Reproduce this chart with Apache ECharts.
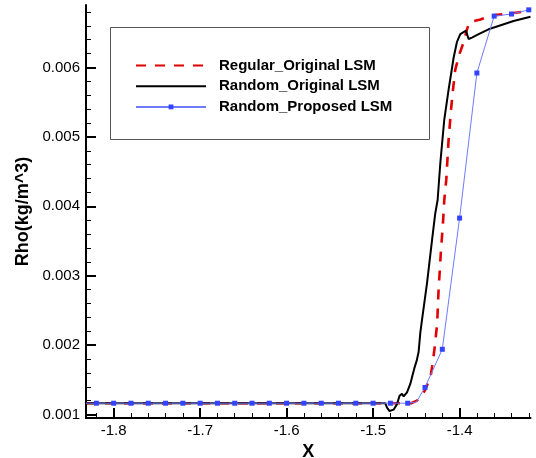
<!DOCTYPE html>
<html><head><meta charset="utf-8">
<script src="https://cdn.jsdelivr.net/npm/echarts@6/dist/echarts.min.js"></script>
<style>html,body{margin:0;padding:0;background:#fff}#c{width:536px;height:458px}</style>
</head><body><div id="c"></div>
<script>
const seriesNames = ['Regular_Original LSM', 'Random_Original LSM', 'Random_Proposed LSM'];

const regularX = [-1.832, -1.456, -1.4493, -1.4454, -1.44, -1.4377, -1.4335, -1.431, -1.4285, -1.426, -1.4243, -1.4215, -1.4192, -1.4177, -1.4154, -1.4127, -1.4099, -1.4076, -1.405, -1.4, -1.3954, -1.3914, -1.3888, -1.376, -1.3625, -1.3394, -1.318];
const regularY = [0.001163, 0.001163, 0.00120, 0.00125, 0.00135, 0.00142, 0.00155, 0.00175, 0.00200, 0.00230, 0.00279, 0.00337, 0.00376, 0.00409, 0.00438, 0.00496, 0.00539, 0.00568, 0.00597, 0.00620, 0.00636, 0.00655, 0.00665, 0.00669, 0.00675, 0.00678, 0.00682];

const randomOrigX = [-1.832, -1.486, -1.4839, -1.481, -1.4763, -1.4724, -1.4694, -1.4666, -1.4647, -1.4608, -1.457, -1.4539, -1.452, -1.4495, -1.4474, -1.4454, -1.4435, -1.4377, -1.4319, -1.4281, -1.4254, -1.4223, -1.4177, -1.4127, -1.4108, -1.4069, -1.403, -1.3992, -1.3954, -1.3926, -1.3896, -1.3857, -1.378, -1.3665, -1.3568, -1.3376, -1.318];
const randomOrigY = [0.001163, 0.001163, 0.00110, 0.00105, 0.00107, 0.00115, 0.00127, 0.00130, 0.00126, 0.00132, 0.00144, 0.00159, 0.00168, 0.00178, 0.00190, 0.00218, 0.00236, 0.00289, 0.00351, 0.00390, 0.00409, 0.00462, 0.00525, 0.00568, 0.00583, 0.00614, 0.00637, 0.00648, 0.00651, 0.00653, 0.00641, 0.00643, 0.00648, 0.00655, 0.00659, 0.00667, 0.00673];

const proposedX = [-1.832, -1.82, -1.80, -1.78, -1.76, -1.74, -1.72, -1.70, -1.68, -1.66, -1.64, -1.62, -1.60, -1.58, -1.56, -1.54, -1.52, -1.50, -1.48, -1.46, -1.45, -1.44, -1.42, -1.40, -1.38, -1.36, -1.34, -1.32];
const proposedY = [0.001163, 0.001163, 0.001163, 0.001163, 0.001163, 0.001163, 0.001163, 0.001163, 0.001163, 0.001163, 0.001163, 0.001163, 0.001163, 0.001163, 0.001163, 0.001163, 0.001163, 0.001163, 0.001163, 0.001163, 0.00118, 0.00139, 0.00194, 0.00383, 0.00592, 0.00674, 0.00677, 0.00683];
// points of the proposed curve drawn without a marker
const proposedNoMarker = [-1.832, -1.45];

const xMajorTicks = [-1.8, -1.7, -1.6, -1.5, -1.4];
const xMinorTicks = [-1.82, -1.78, -1.76, -1.74, -1.72, -1.68, -1.66, -1.64, -1.62, -1.58, -1.56, -1.54, -1.52, -1.48, -1.46, -1.44, -1.42, -1.38, -1.36, -1.34, -1.32];
const yMajorTicks = [0.001, 0.002, 0.003, 0.004, 0.005, 0.006];
const yMinorTicks = [0.0012, 0.0014, 0.0016, 0.0018, 0.0022, 0.0024, 0.0026, 0.0028, 0.0032, 0.0034, 0.0036, 0.0038, 0.0042, 0.0044, 0.0046, 0.0048, 0.0052, 0.0054, 0.0056, 0.0058, 0.0062, 0.0064, 0.0066, 0.0068];

const xTitle = 'X';
const yTitle = 'Rho(kg/m^3)';

const FONT = '"Liberation Sans", Arial, sans-serif';
const XMIN = -1.832, XMAX = -1.318, YMIN = 0.00095, YMAX = 0.0069;

const zip = (xs, ys) => xs.map((x, i) => [x, ys[i]]);
const proposedData = proposedX.map((x, i) => proposedNoMarker.includes(x)
  ? { value: [x, proposedY[i]], symbol: 'none' }
  : [x, proposedY[i]]);

const chart = echarts.init(document.getElementById('c'), null, { renderer: 'canvas' });

function baseX(extra) {
  return Object.assign({
    type: 'value', min: XMIN, max: XMAX, gridIndex: 0, position: 'bottom',
    splitLine: { show: false },
  }, extra);
}
function baseY(extra) {
  return Object.assign({
    type: 'value', min: YMIN, max: YMAX, gridIndex: 0, position: 'left',
    splitLine: { show: false },
  }, extra);
}

const hiddenSymbol = { color: 'rgba(0,0,0,0)', borderWidth: 0, borderColor: 'rgba(0,0,0,0)' };

chart.setOption({
  animation: false,
  backgroundColor: '#ffffff',
  grid: { left: 86, right: 5.5, top: 5, bottom: 40, containLabel: false, outerBoundsMode: 'none' },
  xAxis: [
    baseX({
      name: xTitle, nameLocation: 'middle', nameGap: 18,
      nameTextStyle: { fontFamily: FONT, fontSize: 18, fontWeight: 'bold', color: '#000' },
      axisLine: { show: true, lineStyle: { color: '#000', width: 2 } },
      axisTick: { show: true, inside: true, length: 10, lineStyle: { color: '#000', width: 2 }, customValues: xMajorTicks },
      axisLabel: { show: true, margin: 5, fontFamily: FONT, fontSize: 15, color: '#000', customValues: xMajorTicks,
        formatter: v => v.toFixed(1) },
    }),
    baseX({
      axisLine: { show: false },
      axisTick: { show: true, inside: true, length: 5, lineStyle: { color: '#000', width: 1 }, customValues: xMinorTicks },
      axisLabel: { show: false },
    }),
  ],
  yAxis: [
    baseY({
      name: yTitle, nameLocation: 'middle', nameGap: 47,
      nameTextStyle: { fontFamily: FONT, fontSize: 18, fontWeight: 'bold', color: '#000' },
      axisLine: { show: true, lineStyle: { color: '#000', width: 2 } },
      axisTick: { show: true, inside: true, length: 10, lineStyle: { color: '#000', width: 2 }, customValues: yMajorTicks },
      axisLabel: { show: true, margin: 6, fontFamily: FONT, fontSize: 15, color: '#000', customValues: yMajorTicks,
        formatter: v => v.toFixed(3) },
    }),
    baseY({
      axisLine: { show: false },
      axisTick: { show: true, inside: true, length: 5, lineStyle: { color: '#000', width: 1 }, customValues: yMinorTicks },
      axisLabel: { show: false },
    }),
  ],
  legend: {
    left: 135, top: 58, orient: 'vertical',
    itemWidth: 70, itemHeight: 6, itemGap: 5.7,
    padding: 0,
    data: [
      { name: seriesNames[0], itemStyle: hiddenSymbol },
      { name: seriesNames[1], itemStyle: hiddenSymbol },
      { name: seriesNames[2] },
    ],
    textStyle: { fontFamily: FONT, fontSize: 15, fontWeight: 'bold', color: '#000', lineHeight: 14, padding: [0, 0, 0, 8] },
  },
  graphic: [{
    type: 'rect', left: 108, top: 25, z: 0, silent: true,
    shape: { width: 319, height: 112 },
    style: { fill: 'none', stroke: '#555', lineWidth: 1 },
  }],
  series: [
    {
      name: seriesNames[0], type: 'line', xAxisIndex: 0, yAxisIndex: 0,
      data: zip(regularX, regularY), showSymbol: false, symbol: 'none',
      lineStyle: { color: '#e00000', width: 2.6, type: [10, 9] }, itemStyle: { color: '#e00000' },
      z: 2,
    },
    {
      name: seriesNames[1], type: 'line', xAxisIndex: 0, yAxisIndex: 0,
      data: zip(randomOrigX, randomOrigY), showSymbol: false, symbol: 'none',
      lineStyle: { color: '#000000', width: 2 }, itemStyle: { color: '#000000' },
      z: 3,
    },
    {
      name: seriesNames[2], type: 'line', xAxisIndex: 0, yAxisIndex: 0,
      data: proposedData, symbol: 'rect', symbolSize: 5, showAllSymbol: true,
      lineStyle: { color: '#6e7bff', width: 1 }, itemStyle: { color: '#3344ff', borderWidth: 0 },
      z: 4,
    },
  ],
});
</script>
</body></html>
